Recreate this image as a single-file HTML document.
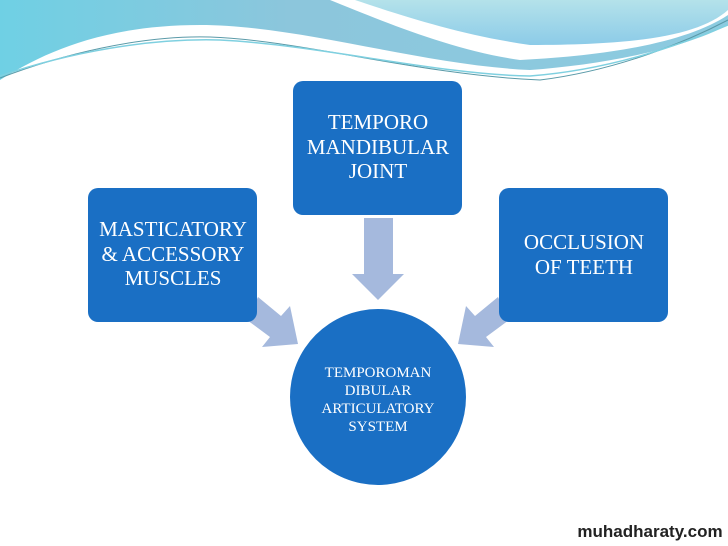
<!DOCTYPE html>
<html><head><style>
body{margin:0;width:728px;height:546px;overflow:hidden;background:#fff}
svg{display:block}
text{font-family:"Liberation Serif",serif;fill:#fff;text-anchor:middle}
</style></head><body>
<svg width="728" height="546" viewBox="0 0 728 546">
<defs>
<linearGradient id="g1" x1="0" y1="0" x2="1" y2="0">
<stop offset="0" stop-color="#6fd0e4"/><stop offset="0.4" stop-color="#8cc6dc"/><stop offset="1" stop-color="#8ccbe0"/>
</linearGradient>
<linearGradient id="g2" x1="0" y1="0" x2="0" y2="1">
<stop offset="0" stop-color="#b4e2ea"/><stop offset="1" stop-color="#8ccbe8"/>
</linearGradient>
</defs>
<path d="M0,0 H728 V25 C680,50 600,65 530,70 C420,65 300,25 200,25 C100,25 40,55 0,80 Z" fill="url(#g1)"/>
<path d="M330,0 H728 V15 C690,40 620,55 520,60 C450,50 380,20 330,0 Z" fill="#fff"/>
<path d="M355,0 H728 V10 C700,35 640,45 530,45 C460,35 400,15 355,0 Z" fill="url(#g2)"/>
<path d="M0,78 C60,55 140,35 210,37 C300,40 420,75 540,80 C620,70 690,40 728,20" fill="none" stroke="#5a9aa8" stroke-width="1"/>
<path d="M0,76 C70,52 150,38 220,40 C320,45 440,75 530,76 C610,70 680,45 728,25" fill="none" stroke="#7fd0e0" stroke-width="1.5"/>
<polygon points="364,218 393,218 393,274 404,274 378,300 352,274 364,274" fill="#a5b9dd"/>
<polygon points="258,297 281,316 290,306 298,344 262,347 270,337 247,320" fill="#a5b9dd"/>
<polygon points="498,297 475,316 466,306 458,344 494,347 486,337 509,320" fill="#a5b9dd"/>
<rect x="293" y="81" width="169" height="134" rx="10" fill="#1a6fc4"/>
<rect x="88" y="188" width="169" height="134" rx="10" fill="#1a6fc4"/>
<rect x="499" y="188" width="169" height="134" rx="10" fill="#1a6fc4"/>
<circle cx="378" cy="397" r="88" fill="#1a6fc4"/>
<g font-size="21">
<text x="378" y="129">TEMPORO</text><text x="378" y="154">MANDIBULAR</text><text x="378" y="178">JOINT</text>
<text x="173" y="236">MASTICATORY</text><text x="173" y="261">&amp; ACCESSORY</text><text x="173" y="285">MUSCLES</text>
<text x="584" y="249">OCCLUSION</text><text x="584" y="274">OF TEETH</text>
</g>
<g font-size="15">
<text x="378" y="377">TEMPOROMAN</text><text x="378" y="395">DIBULAR</text><text x="378" y="413">ARTICULATORY</text><text x="378" y="431">SYSTEM</text>
</g>
<text x="650" y="537" font-weight="bold" font-size="17" style="fill:#222;font-family:'Liberation Sans',sans-serif">muhadharaty.com</text>
</svg>
</body></html>
